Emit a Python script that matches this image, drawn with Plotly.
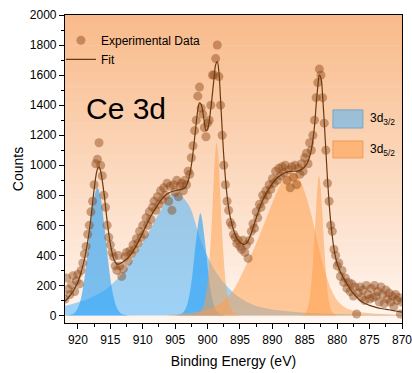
import plotly.graph_objects as go

# ---------------- data ----------------
energy = [
    922.00, 921.75, 921.50, 921.25, 921.00, 920.75, 920.50, 920.25,
    920.00, 919.75, 919.50, 919.25, 919.00, 918.75, 918.50, 918.25,
    918.00, 917.75, 917.50, 917.25, 917.00, 916.75, 916.50, 916.25,
    916.00, 915.75, 915.50, 915.25, 915.00, 914.75, 914.50, 914.25,
    914.00, 913.75, 913.50, 913.25, 913.00, 912.75, 912.50, 912.25,
    912.00, 911.75, 911.50, 911.25, 911.00, 910.75, 910.50, 910.25,
    910.00, 909.75, 909.50, 909.25, 909.00, 908.75, 908.50, 908.25,
    908.00, 907.75, 907.50, 907.25, 907.00, 906.75, 906.50, 906.25,
    906.00, 905.75, 905.50, 905.25, 905.00, 904.75, 904.50, 904.25,
    904.00, 903.75, 903.50, 903.25, 903.00, 902.75, 902.50, 902.25,
    902.00, 901.75, 901.50, 901.25, 901.00, 900.75, 900.50, 900.25,
    900.00, 899.75, 899.50, 899.25, 899.00, 898.75, 898.50, 898.25,
    898.00, 897.75, 897.50, 897.25, 897.00, 896.75, 896.50, 896.25,
    896.00, 895.75, 895.50, 895.25, 895.00, 894.75, 894.50, 894.25,
    894.00, 893.75, 893.50, 893.25, 893.00, 892.75, 892.50, 892.25,
    892.00, 891.75, 891.50, 891.25, 891.00, 890.75, 890.50, 890.25,
    890.00, 889.75, 889.50, 889.25, 889.00, 888.75, 888.50, 888.25,
    888.00, 887.75, 887.50, 887.25, 887.00, 886.75, 886.50, 886.25,
    886.00, 885.75, 885.50, 885.25, 885.00, 884.75, 884.50, 884.25,
    884.00, 883.75, 883.50, 883.25, 883.00, 882.75, 882.50, 882.25,
    882.00, 881.75, 881.50, 881.25, 881.00, 880.75, 880.50, 880.25,
    880.00, 879.75, 879.50, 879.25, 879.00, 878.75, 878.50, 878.25,
    878.00, 877.75, 877.50, 877.25, 877.00, 876.75, 876.50, 876.25,
    876.00, 875.75, 875.50, 875.25, 875.00, 874.75, 874.50, 874.25,
    874.00, 873.75, 873.50, 873.25, 873.00, 872.75, 872.50, 872.25,
    872.00, 871.75, 871.50, 871.25, 871.00, 870.75, 870.50, 870.25,
    870.00,
]
counts = [
    110, 250, 175, 140, 205, 265, 160, 230,
    275, 210, 300, 350, 410, 460, 540, 600,
    690, 760, 870, 1010, 1040, 1150, 1000, 930,
    800, 720, 600, 520, 470, 420, 390, 330,
    300, 400, 330, 260, 310, 390, 420, 360,
    430, 410, 470, 440, 510, 480, 560, 520,
    600, 540, 650, 600, 690, 640, 720, 760,
    700, 790, 740, 830, 770, 850, 800, 880,
    760, 860, 700, 870, 820, 900, 790, 860,
    880, 830, 900, 870, 960, 940, 1050, 1130,
    1230, 1300, 1460, 1520, 1380, 1340, 1250, 1190,
    1280, 1300, 1400, 1600, 1600, 1710, 1800, 1590,
    1400, 1200, 1000, 870, 760, 700, 620, 600,
    540, 520, 480, 500, 460, 440, 500, 420,
    470, 380, 500, 560, 610, 580, 690, 650,
    740, 720, 800, 770, 830, 800, 870, 840,
    910, 880, 960, 900, 980, 930, 990, 950,
    1000, 900, 970, 850, 990, 920, 1000, 870,
    980, 940, 1010, 960, 1050, 1080, 1010, 1150,
    1100, 1200, 1300, 1450, 1550, 1640, 1600, 1450,
    1280, 1100, 880, 760, 600, 560, 440, 400,
    330, 350, 260, 300, 220, 250, 180, 220,
    160, 210, 130, 190, 10, 150, 190, 120,
    170, 100, 200, 140, 110, 180, 120, 200,
    130, 160, 90, 190, 140, 80, 170, 110,
    150, 90, 130, 60, 140, 100, 120, 10,
    90,
]

fit_energy = [922, 921.5, 921, 920.5, 920, 919.5, 919, 918.5, 918, 917.5, 917, 916.75,
              916.5, 916, 915.5, 915, 914.5, 914, 913.5, 913, 912.5, 912, 911.5, 911,
              910.5, 910, 909.5, 909, 908.5, 908, 907.5, 907, 906.5, 906, 905.5, 905,
              904.5, 904, 903.5, 903, 902.5, 902, 901.5, 901.25, 901, 900.5, 900.25, 900,
              899.5, 899, 898.75, 898.5, 898.25, 898, 897.5, 897, 896.5, 896, 895.5, 895,
              894.5, 894, 893.5, 893, 892.5, 892, 891.5, 891, 890.5, 890, 889.5, 889,
              888.5, 888, 887.5, 887, 886.5, 886, 885.5, 885, 884.5, 884, 883.5, 883.25,
              883, 882.75, 882.5, 882.25, 882, 881.75, 881.5, 881.25, 881, 880.5, 880,
              879.5, 879, 878.5, 878, 877.5, 877, 876.5, 876, 875.5, 875, 874, 873, 872,
              871, 870]
fit_counts = [95, 118, 145, 180, 225, 290, 375, 490, 650, 840, 975, 990,
              960, 820, 630, 475, 380, 342, 345, 358, 375, 397, 428, 465,
              508, 550, 598, 640, 680, 715, 748, 778, 800, 815, 825, 830,
              835, 840, 850, 895, 1000, 1180, 1370, 1415, 1405, 1290, 1230, 1240,
              1380, 1580, 1670, 1690, 1620, 1440, 1060, 800, 655, 570, 515, 487,
              473, 480, 520, 580, 648, 712, 765, 808, 845, 878, 905, 925,
              940, 952, 958, 960, 960, 963, 972, 990, 1025, 1100, 1260, 1400,
              1520, 1600, 1580, 1460, 1290, 1100, 910, 750, 625, 445, 345,
              290, 248, 210, 176, 147, 122, 102, 87, 76, 67, 54, 45, 38,
              30, 22]

# 3d3/2 components (blue)
c32a_energy = [922, 921, 920.5, 920, 919.5, 919, 918.5, 918, 917.5, 917, 916.5, 916,
               915.5, 915, 914.5, 914, 913.5, 913, 912]
c32a_counts = [0, 6, 19, 52, 122, 246, 423, 623, 786, 850, 786, 623,
               423, 246, 122, 52, 19, 6, 0]
c32b_energy = [922, 921, 920, 919, 918, 917, 916, 915, 914, 913, 912, 911, 910, 909,
               908, 907, 906, 905.5, 905, 904.5, 904, 903.5, 903, 902.5, 902, 901.5,
               901, 900.5, 900, 899, 898, 897, 896, 895, 894, 893, 892, 891, 890, 888,
               886, 884, 882, 880, 877, 874, 870]
c32b_counts = [65, 75, 88, 102, 120, 140, 165, 200, 240, 290, 350, 415, 485, 560,
               640, 715, 790, 808, 815, 810, 795, 770, 740, 700, 630, 560,
               490, 440, 393, 310, 245, 195, 150, 118, 92, 72, 58, 48, 40, 30,
               22, 17, 13, 10, 7, 5, 3]
c32c_energy = [905, 904.1, 903.6, 903.1, 902.6, 902.35, 902.1, 901.85, 901.6, 901.35,
               901.1, 900.85, 900.6, 900.35, 900.1, 899.85, 899.6, 899.1, 898.6, 898.1, 897.2]
c32c_counts = [0, 10, 30, 80, 190, 270, 370, 470, 560, 640,
               680, 640, 560, 470, 370, 270, 190, 80, 30, 10, 0]

# 3d5/2 components (orange)
c52d_energy = [902.5, 901.6, 901.1, 900.6, 900.1, 899.85, 899.6, 899.35, 899.1, 898.85,
               898.6, 898.35, 898.1, 897.85, 897.6, 897.35, 897.1, 896.6, 896.1, 895.6, 894.7]
c52d_counts = [0, 8, 25, 70, 180, 290, 440, 620, 850, 1060,
               1150, 1060, 850, 620, 440, 290, 180, 70, 25, 8, 0]
c52e_energy = [906, 904, 902, 900, 899, 898, 897, 896, 895, 894, 893, 892, 891, 890,
               889, 888, 887.5, 887, 886.5, 886, 885.5, 885, 884.5, 884, 883.5, 883,
               882.5, 882, 881.5, 881, 880, 879, 878, 877, 876, 874, 872, 870]
c52e_counts = [5, 12, 22, 40, 55, 80, 120, 170, 250, 340, 430, 530, 640, 750,
               850, 920, 945, 950, 945, 920, 880, 820, 750, 670, 580, 480,
               390, 310, 240, 180, 100, 60, 38, 27, 20, 12, 8, 5]
c52f_energy = [885.8, 885.3, 884.8, 884.3, 884.05, 883.8, 883.55, 883.3, 883.05, 882.8,
               882.55, 882.3, 882.05, 881.8, 881.55, 881.3, 880.8, 880.3, 879.8]
c52f_counts = [0, 5, 25, 100, 190, 320, 490, 680, 850, 930,
               850, 680, 490, 320, 190, 100, 25, 5, 0]

x_ticks = [920, 915, 910, 905, 900, 895, 890, 885, 880, 875, 870]
y_ticks = [0, 200, 400, 600, 800, 1000, 1200, 1400, 1600, 1800, 2000]

# ---------------- styling ----------------
BLUE = "rgba(60,175,255,0.50)"
BLUE_STRONG = "rgba(40,160,245,0.62)"
ORANGE = "rgba(255,155,70,0.50)"
FONT = "Liberation Sans, Arial, sans-serif"

fig = go.Figure()

def add_comp(xs, ys, color):
    fig.add_trace(go.Scatter(x=xs, y=ys, mode="lines", fill="tozeroy",
                             fillcolor=color, line=dict(width=0, shape="spline"),
                             showlegend=False, hoverinfo="skip"))

add_comp(c32b_energy, c32b_counts, BLUE)
add_comp(c32a_energy, c32a_counts, BLUE_STRONG)
add_comp(c32c_energy, c32c_counts, BLUE_STRONG)
add_comp(c52e_energy, c52e_counts, ORANGE)
add_comp(c52d_energy, c52d_counts, ORANGE)
add_comp(c52f_energy, c52f_counts, ORANGE)

fig.add_trace(go.Scatter(x=energy, y=counts, mode="markers", name="Experimental Data",
                         marker=dict(size=9, color="rgba(139,69,19,0.45)",
                                     line=dict(width=0))))
fig.add_trace(go.Scatter(x=fit_energy, y=fit_counts, mode="lines", name="Fit",
                         line=dict(color="#6b3a10", width=1.2, shape="spline")))

# gradient background of the plot area
n = 60
top = (248, 186, 138)
bot = (255, 246, 240)
for i in range(n):
    t = (i + 0.5) / n  # 0 bottom -> 1 top
    c = tuple(round(bot[k] + (top[k] - bot[k]) * t) for k in range(3))
    fig.add_shape(type="rect", xref="paper", yref="paper", x0=0, x1=1,
                  y0=i / n, y1=(i + 1) / n + 0.002, layer="below",
                  line=dict(width=0), fillcolor="rgb(%d,%d,%d)" % c)

# component legend (swatches + labels)
fig.add_shape(type="rect", xref="paper", yref="paper", x0=0.795, x1=0.884,
              y0=0.633, y1=0.692, fillcolor="rgba(60,175,255,0.5)",
              line=dict(color="rgba(100,160,200,0.8)", width=1))
fig.add_shape(type="rect", xref="paper", yref="paper", x0=0.795, x1=0.884,
              y0=0.536, y1=0.591, fillcolor="rgba(255,160,80,0.6)",
              line=dict(color="rgba(240,150,80,0.9)", width=1))
fig.add_annotation(xref="paper", yref="paper", x=0.899, y=0.662, xanchor="left",
                   yanchor="middle", showarrow=False, text="3d<sub>3/2</sub>",
                   font=dict(size=12, color="black", family=FONT))
fig.add_annotation(xref="paper", yref="paper", x=0.899, y=0.562, xanchor="left",
                   yanchor="middle", showarrow=False, text="3d<sub>5/2</sub>",
                   font=dict(size=12, color="black", family=FONT))
fig.add_annotation(xref="paper", yref="paper", x=0.18, y=0.695, xanchor="center",
                   yanchor="middle", showarrow=False, text="Ce 3d",
                   font=dict(size=30, color="black", family=FONT))

axis_common = dict(showline=True, linecolor="black", linewidth=1.2, mirror=True,
                   ticks="outside", ticklen=5, tickcolor="black", tickwidth=1,
                   showgrid=False, zeroline=False, automargin=False,
                   ticklabeloverflow="allow",
                   tickfont=dict(size=12, color="black", family=FONT),
                   title_font=dict(size=14, color="black", family=FONT))

fig.update_xaxes(range=[922, 870], tickvals=x_ticks, title_text="Binding Energy (eV)",
                 title_standoff=10,
                 minor=dict(ticks="outside", ticklen=3, tickcolor="black", dtick=2.5,
                            tick0=870),
                 **axis_common)
fig.update_yaxes(range=[-50, 2000], tickvals=y_ticks, title_text="Counts",
                 title_standoff=2,
                 minor=dict(ticks="outside", ticklen=3, tickcolor="black", dtick=100,
                            tick0=0),
                 **axis_common)

fig.update_layout(
    width=412, height=373,
    margin=dict(l=65, r=10, t=15, b=50),
    paper_bgcolor="white", plot_bgcolor="white",
    font=dict(family=FONT, color="black"),
    legend=dict(x=-0.012, y=0.965, xanchor="left", yanchor="top",
                bgcolor="rgba(0,0,0,0)", font=dict(size=12, family=FONT),
                tracegroupgap=0, itemwidth=30),
)

fig.write_html("out.html", config={"displayModeBar": False},
               post_script="document.body.style.margin='0';document.body.style.overflow='hidden';")
